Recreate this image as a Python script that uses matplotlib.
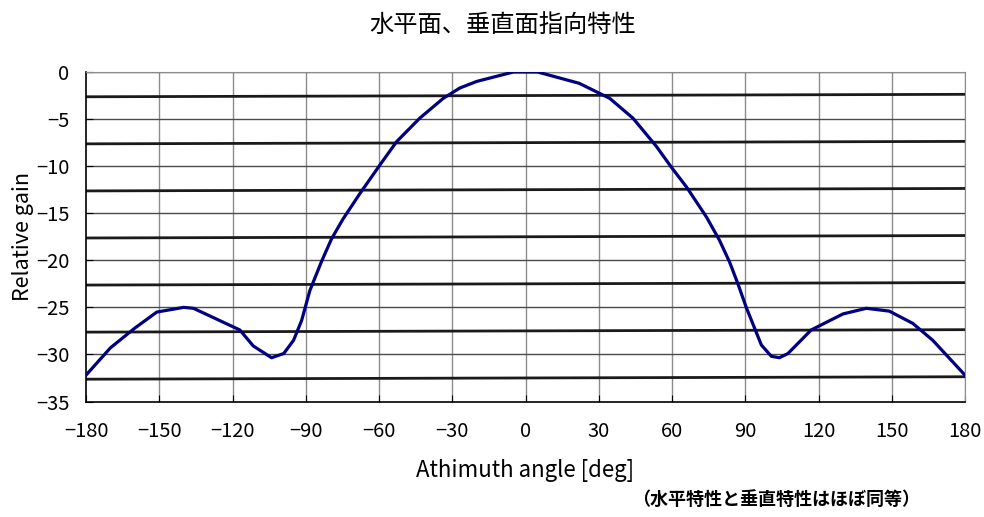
import matplotlib
matplotlib.use("Agg")
import matplotlib.pyplot as plt

plt.rcParams["font.family"] = ["Noto Sans CJK JP", "DejaVu Sans"]

# directivity pattern
angle = [-180, -170, -160, -151, -140, -136, -117, -111.5, -104, -99, -95,
         -91.7, -88.3, -83.5, -79.4, -74.7, -67.8, -59.7, -52.8, -43.3,
         -33.7, -26.9, -20, -5, 5, 22, 34.5, 44, 53.6, 59.7, 65.9, 74.1,
         79.5, 83.6, 87, 90.4, 96.6, 100.7, 104, 107.5, 117, 130, 139.6,
         149, 158.6, 166.8, 180]
gain = [-32.2, -29.3, -27.2, -25.5, -25.0, -25.1, -27.4, -29.1, -30.35,
        -29.9, -28.5, -26.4, -23.2, -20.1, -17.7, -15.6, -12.9, -9.9,
        -7.4, -4.9, -2.8, -1.7, -1.0, 0.0, 0.0, -1.2, -2.8, -4.9, -7.9,
        -10.1, -12.2, -15.4, -17.9, -20.2, -22.5, -25.0, -29.0, -30.2,
        -30.35, -29.9, -27.4, -25.7, -25.1, -25.4, -26.7, -28.5, -32.2]

x_ticks = list(range(-180, 181, 30))
y_ticks = list(range(-35, 1, 5))
bold_levels = [-2.5, -7.5, -12.5, -17.5, -22.5, -27.5, -32.5]

title = "水平面、垂直面指向特性"
note = "（水平特性と垂直特性はほぼ同等）"

fig = plt.figure(figsize=(9.84, 5.17), dpi=100)
ax = fig.add_axes([0.0874, 0.2234, 0.8933, 0.6373])

ax.set_xlim(-180, 180)
ax.set_ylim(-35, 0)
ax.set_xticks(x_ticks)
ax.set_yticks(y_ticks)

for x in x_ticks[1:]:
    ax.axvline(x, color="#8c8c8c", lw=1.0, zorder=1)
for y in y_ticks[1:]:
    ax.axhline(y, color="#4a4a4a", lw=1.0, zorder=1)
# the thick lines lean a touch upward to the right in the original
tilt = 0.13
for lvl in bold_levels:
    ax.plot([-180, 180], [lvl - tilt, lvl + tilt], color="#1a1a1a",
            lw=2.0, zorder=2, solid_capstyle="butt")

ax.plot(angle, gain, color="#000080", lw=2.3, zorder=3,
        solid_joinstyle="round")

for side in ["top", "right"]:
    ax.spines[side].set_color("#8c8c8c")
for side in ["left", "bottom"]:
    ax.spines[side].set_color("black")
    ax.spines[side].set_linewidth(1.2)

ax.tick_params(direction="in", length=5, labelsize=14.5)
ax.tick_params(axis="y", pad=12)
ax.tick_params(axis="x", pad=14)
ax.set_xticklabels(["−%d" % -t if t < 0 else str(t) for t in x_ticks])
ax.set_yticklabels(["−%d" % -t if t < 0 else str(t) for t in y_ticks])

ax.set_xlabel("Athimuth angle [deg]", fontsize=16, labelpad=12)
ax.set_ylabel("Relative gain", fontsize=15.5, labelpad=1)

fig.text(0.511, 0.952, title, ha="center", va="center", fontsize=17.5)
fig.text(0.789, 0.034, note, ha="center", va="center", fontsize=13,
         fontweight="bold")

plt.savefig("out.png", dpi=100)
